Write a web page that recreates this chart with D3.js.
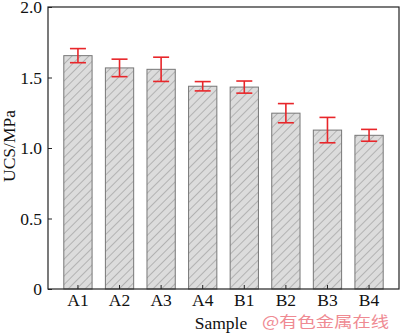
<!DOCTYPE html>
<html><head><meta charset="utf-8">
<script src="https://cdn.jsdelivr.net/npm/d3@7"></script>
<style>body{margin:0;background:#fff}svg{display:block}</style>
</head><body>
<script>
const categories = ["A1","A2","A3","A4","B1","B2","B3","B4"];
const ucs = [1.655, 1.568, 1.558, 1.438, 1.432, 1.247, 1.127, 1.090];
const errs = [0.050, 0.062, 0.086, 0.033, 0.043, 0.068, 0.090, 0.042];
const yTicks = [0, 0.5, 1.0, 1.5, 2.0];
const yTickLabels = ["0", "0.5", "1.0", "1.5", "2.0"];

const W = 400, H = 335;
const m = {left: 48, right: 1, top: 7, bottom: 46};
const svg = d3.select("body").append("svg").attr("width", W).attr("height", H);
const defs = svg.append("defs");
const pat = defs.append("pattern").attr("id","hatch").attr("patternUnits","userSpaceOnUse")
  .attr("width",6).attr("height",6).attr("patternTransform","rotate(45)");
pat.append("rect").attr("width",6).attr("height",6).attr("fill","#dcdcdc");
pat.append("line").attr("x1",0).attr("y1",0).attr("x2",0).attr("y2",6).attr("stroke","#888").attr("stroke-width",1);

const x = d3.scaleBand().domain(categories).range([m.left, W - m.right]).paddingInner(0.32).paddingOuter(0.38);
const y = d3.scaleLinear().domain([0, 2]).range([H - m.bottom, m.top]);

const font = "'Liberation Serif','Times New Roman',serif";
const fs = 17.5;

// bars
svg.append("g").selectAll("rect").data(categories).join("rect")
  .attr("x", d => x(d)).attr("width", x.bandwidth())
  .attr("y", (d,i) => y(ucs[i])).attr("height", (d,i) => y(0) - y(ucs[i]))
  .attr("fill","url(#hatch)").attr("stroke","#777").attr("stroke-width",1);

// error bars
const eg = svg.append("g").attr("stroke","#e8262a").attr("stroke-width",1.6).attr("fill","none");
categories.forEach((c,i) => {
  const cx = x(c) + x.bandwidth()/2;
  const cap = 8;
  eg.append("line").attr("x1",cx).attr("x2",cx).attr("y1",y(ucs[i]+errs[i])).attr("y2",y(ucs[i]-errs[i]));
  eg.append("line").attr("x1",cx-cap).attr("x2",cx+cap).attr("y1",y(ucs[i]+errs[i])).attr("y2",y(ucs[i]+errs[i]));
  eg.append("line").attr("x1",cx-cap).attr("x2",cx+cap).attr("y1",y(ucs[i]-errs[i])).attr("y2",y(ucs[i]-errs[i]));
});

// frame
svg.append("rect").attr("x",m.left).attr("y",m.top).attr("width",W-m.right-m.left).attr("height",y(0)-m.top)
  .attr("fill","none").attr("stroke","#222").attr("stroke-width",1.2);

// y axis
const yAxis = d3.axisLeft(y).tickValues(yTicks).tickFormat((d,i) => yTickLabels[i]).tickSizeInner(-4).tickSizeOuter(0).tickPadding(6);
const gy = svg.append("g").attr("transform",`translate(${m.left},0)`).call(yAxis);
gy.select(".domain").remove();
gy.selectAll("line").attr("stroke","#222");
gy.selectAll("text").attr("font-family",font).attr("font-size",fs).attr("fill","#111");

// x axis
const xAxis = d3.axisBottom(x).tickSizeInner(-4).tickSizeOuter(0).tickPadding(5);
const gx = svg.append("g").attr("transform",`translate(0,${y(0)})`).call(xAxis);
gx.select(".domain").remove();
gx.selectAll("line").attr("stroke","#222");
gx.selectAll("text").attr("font-family",font).attr("font-size",fs).attr("fill","#111");

// labels
svg.append("text").attr("transform","translate(15,146) rotate(-90)").attr("text-anchor","middle")
  .attr("font-family",font).attr("font-size",fs).attr("fill","#111").text("UCS/MPa");
svg.append("text").attr("x",221).attr("y",329).attr("text-anchor","middle")
  .attr("font-family",font).attr("font-size",fs).attr("fill","#111").text("Sample");

// watermark
svg.append("text").attr("x",262).attr("y",327).attr("font-family","'Noto Sans CJK SC',sans-serif")
  .attr("font-size",15).attr("fill","#ef8a92").attr("textLength",127).attr("lengthAdjust","spacingAndGlyphs").text("@有色金属在线");
</script>
</body></html>
